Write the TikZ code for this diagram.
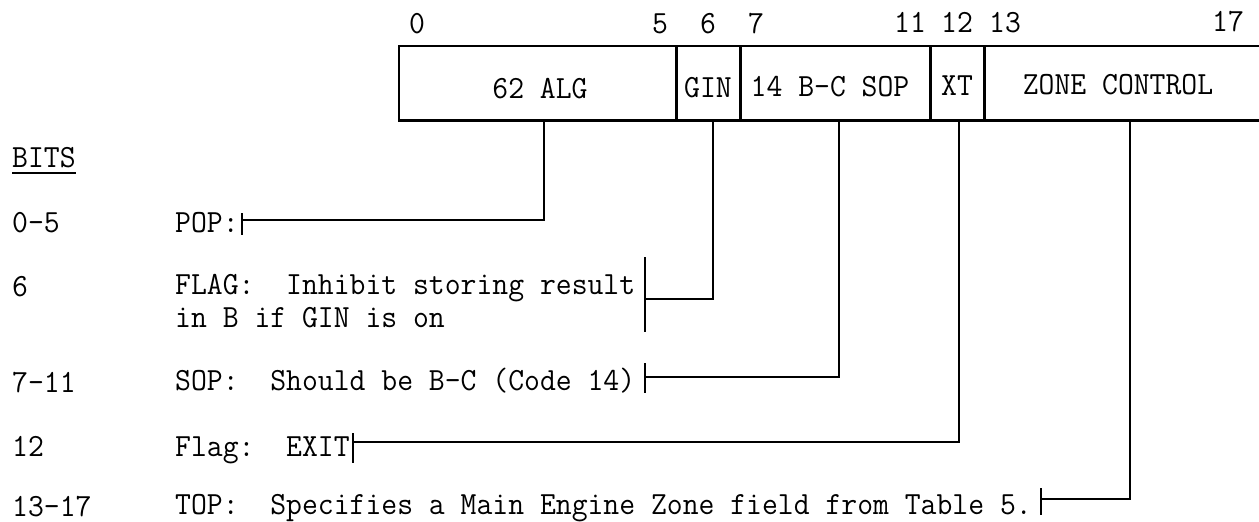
\documentclass[tikz,border=0pt]{standalone}
\usepackage{fontspec}
\usetikzlibrary{calc}
\newcommand{\TT}[1]{\scalebox{1}[1.05]{#1}}
\tikzset{
  txt/.style={font=\ttfamily\fontsize{30.8}{34}\selectfont, inner sep=0pt, anchor=base west},
  ctxt/.style={txt, anchor=base},
  field/.style={inner sep=0pt, minimum height=74pt},
  boxline/.style={line width=2.6pt},
  leader/.style={line width=2pt},
  barline/.style={line width=2pt}
}
\begin{document}
\begin{tikzpicture}[x=1pt,y=-1pt]
\useasboundingbox (0,0) rectangle (1259,522);
% fields
\node[field, minimum width=277pt] (alg)  at (537.5,83) {};
\node[field, minimum width=64pt]  (gin)  at (708,83) {};
\node[field, minimum width=190pt] (sop)  at (835,83) {};
\node[field, minimum width=54pt]  (xt)   at (957,83) {};
\node[field, minimum width=275pt] (zone) at (1121.5,83) {};
\draw[boxline] (zone.north east) -- (alg.north west) -- (alg.south west) -- (zone.south east);
\draw[boxline] (alg.north east) -- (alg.south east);
\draw[boxline] (gin.north east) -- (gin.south east);
\draw[boxline] (sop.north east) -- (sop.south east);
\draw[boxline] (xt.north east) -- (xt.south east);
% field texts
\node[ctxt] (algt)  at (540,98)  {\TT{62 ALG}};
\node[ctxt] (gint)  at (708,97)  {\TT{GIN}};
\node[ctxt] (sopt)  at (830,96)  {\TT{14 B-C SOP}};
\node[ctxt] (xtt)   at (957,95)  {\TT{XT}};
\node[ctxt] (zonet) at (1118,94) {\TT{ZONE CONTROL}};
% bit numbers
\node[ctxt] (n0)  at (417,34)  {\TT{0}};
\node[ctxt] (n5)  at (660,34)  {\TT{5}};
\node[ctxt] (n6)  at (708,34)  {\TT{6}};
\node[ctxt] (n7)  at (756,34)  {\TT{7}};
\node[ctxt] (n11) at (910,32)  {\TT{11}};
\node[ctxt] (n12) at (957,32)  {\TT{12}};
\node[ctxt] (n13) at (1005,32) {\TT{13}};
\node[ctxt] (n17) at (1228,31) {\TT{17}};
% left column
\node[txt] (bits) at (12,167) {\TT{BITS}};
\draw[line width=2pt] ([yshift=-6pt]bits.base west) -- ([yshift=-6pt]bits.base east);
\node[txt] (b1) at (12,232) {\TT{0-5}};
\node[txt] (b2) at (12,296) {\TT{6}};
\node[txt] (b3) at (12,392) {\TT{7-11}};
\node[txt] (b4) at (12,456) {\TT{12}};
\node[txt] (b5) at (12,516) {\TT{13-17}};
% descriptions
\node[txt] (pop)  at (175,232) {\TT{POP:}};
\node[txt] (flag) at (175,294) {\TT{FLAG:\ \ Inhibit storing result}};
\node[txt] (flag2) at (175,327) {\TT{in B if GIN is on}};
\node[txt] (sopd) at (175,390) {\TT{SOP:\ \ Should be B-C (Code 14)}};
\node[txt] (exit) at (175,456) {\TT{Flag:\ \ EXIT}};
\node[txt] (top)  at (175,514) {\TT{TOP:\ \ Specifies a Main Engine Zone field from Table 5.}};
% bar end points
\coordinate (popend)  at (242,220);
\coordinate (flagend) at (645,299);
\coordinate (sopend)  at (645,377);
\coordinate (exitend) at (353,442);
\coordinate (topend)  at (1041,499);
\draw[barline] (242,213) -- (242,235);
\draw[barline] (645,257) -- (645,332);
\draw[barline] (645,363) -- (645,393);
\draw[barline] (353,433) -- (353,463);
\draw[barline] (1041,488) -- (1041,515);
% leaders
\draw[leader] ([xshift=6.5pt]alg.south) |- (popend);
\draw[leader] ([xshift=5pt]gin.south) |- (flagend);
\draw[leader] ([xshift=4pt]sop.south) |- (sopend);
\draw[leader] ([xshift=2pt]xt.south) |- (exitend);
\draw[leader] ([xshift=8.5pt]zone.south) |- (topend);
\end{tikzpicture}
\end{document}
